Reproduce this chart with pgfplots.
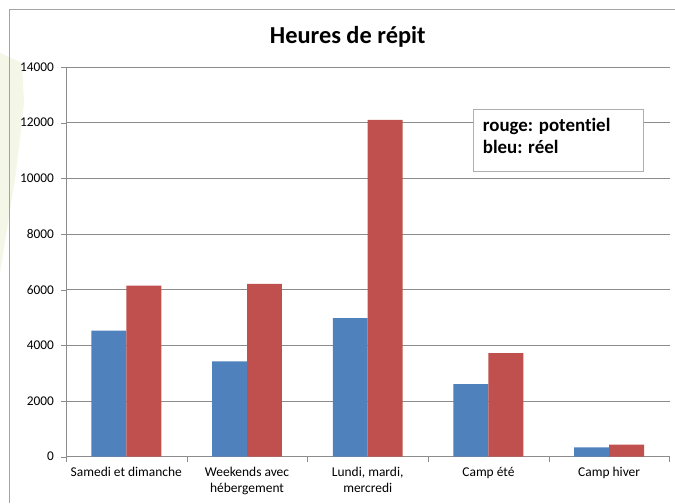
\documentclass[border=0pt]{standalone}
\usepackage{pgfplots}
\pgfplotsset{compat=1.18}
\usepackage{fontspec}
\setmainfont{Carlito}[Ligatures={NoCommon}]
\definecolor{xlblue}{HTML}{4F81BD}
\definecolor{xlred}{HTML}{C0504D}
\definecolor{gridc}{HTML}{8C8C8C}
\definecolor{wmark}{HTML}{F4F7E8}
\pgfplotstableread{
x blue red
0 4530 6140
1 3420 6210
2 4980 12100
3 2610 3720
4 330 430
}\datatab
\begin{document}
\begin{tikzpicture}[x=1bp,y=1bp]
\fill[white] (0,0) rectangle (675,503);
\fill[wmark] (0,450) -- (22,440) -- (24,400) -- (16,330) -- (0,230) -- cycle;
\draw[gridc!80, line width=1bp] (10,0) -- (10,493) -- (675,493);
\node[font=\bfseries\fontsize{24.5}{28}\selectfont, anchor=base] at (348,459.7) {Heures de répit};
\begin{axis}[
  at={(66bp,46bp)}, anchor=south west,
  scale only axis, width=604bp, height=390bp,
  xmin=-0.5, xmax=4.5, ymin=0, ymax=14000,
  enlargelimits=false,
  ybar=0pt, bar width=35bp,
  axis lines*=left,
  axis line style={gridc},
  xtick={0,1,2,3,4},
  xticklabels={Samedi et dimanche, Weekends avec\\hébergement, {Lundi, mardi,\\mercredi}, Camp été, Camp hiver},
  xticklabel style={align=center, font=\fontsize{13.5}{15.8}\selectfont, yshift=-2bp},
  major x tick style={draw=none},
  minor xtick={-0.5,0.5,1.5,2.5,3.5,4.5},
  minor tick length=5bp,
  minor x tick style={gridc},
  ytick={0,2000,4000,6000,8000,10000,12000,14000},
  yticklabels={0,2000,4000,6000,8000,10000,12000,14000},
  scaled y ticks=false,
  yticklabel style={font=\fontsize{13.4}{15}\selectfont, xshift=-3.5bp},
  major tick length=5bp,
  tick align=outside,
  y tick style={gridc},
  ymajorgrids, grid style={gridc, line width=0.8bp},
]
\addplot[fill=xlblue, draw=none] table[x=x,y=blue]{\datatab};
\addplot[fill=xlred, draw=none] table[x=x,y=red]{\datatab};
\end{axis}
\node[draw=gridc!70, fill=white, line width=0.8bp, minimum width=170bp, minimum height=62bp, anchor=north west, inner sep=0pt] (lg) at (473,393.7) {};
\node[font=\bfseries\fontsize{19}{22.5}\selectfont, align=left, anchor=north west, inner sep=0pt] at (483,385) {rouge: potentiel\\bleu: réel};
\end{tikzpicture}
\end{document}
